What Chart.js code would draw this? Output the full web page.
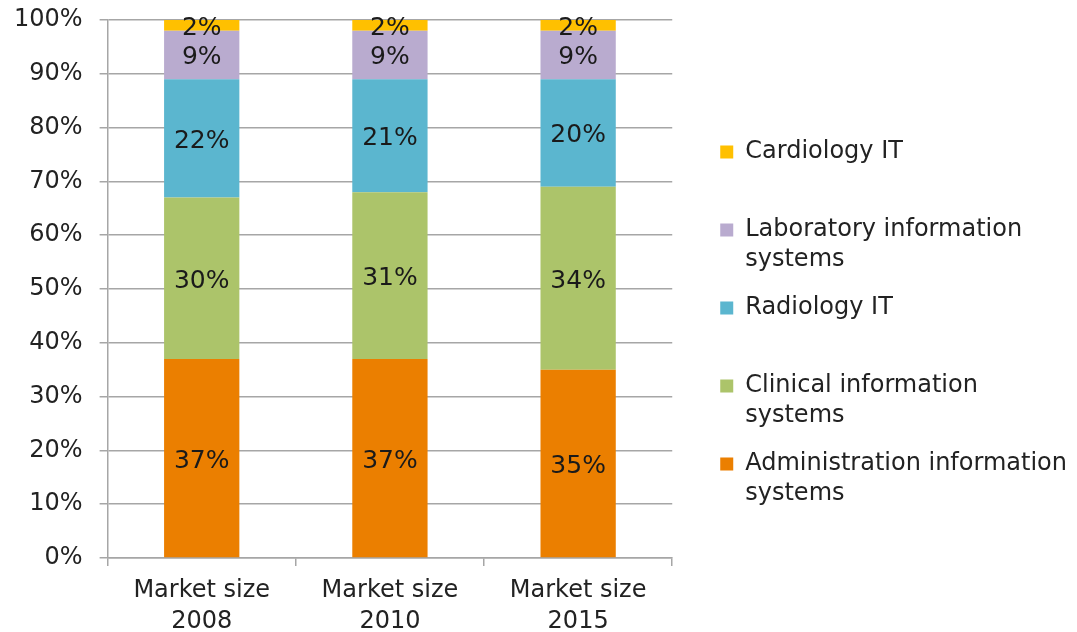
<!DOCTYPE html>
<html>
<head>
<meta charset="utf-8">
<script src="https://cdn.jsdelivr.net/npm/chart.js@4"></script>
<style>
  html, body { margin: 0; padding: 0; background: #fff; }
  #wrap { width: 1077px; height: 632px; }
</style>
</head>
<body>
<div id="wrap"><canvas id="chart"></canvas></div>
<script>
// categories and shares (%) per segment, bottom to top
const categories = [['Market size', '2008'], ['Market size', '2010'], ['Market size', '2015']];
const administration = [37, 37, 35];
const clinical = [30, 31, 34];
const radiology = [22, 21, 20];
const laboratory = [9, 9, 9];
const cardiology = [2, 2, 2];
const yTicks = ['0%', '10%', '20%', '30%', '40%', '50%', '60%', '70%', '80%', '90%', '100%'];

const seriesNames = [
    ['Administration information', 'systems'],
    ['Clinical information', 'systems'],
    ['Radiology IT', ''],
    ['Laboratory information', 'systems'],
    ['Cardiology IT', '']
];
const colors = ['#eb7f00', '#acc46a', '#5bb6cf', '#b9abcf', '#ffc000'];

const fontFamily = '"DejaVu Sans", Verdana, sans-serif';
const textColor = '#222222';

// etiquetas dentro de cada segmento
const barLabels = {
    id: 'barLabels',
    afterDatasetsDraw(chart) {
        const ctx = chart.ctx;
        ctx.save();
        ctx.font = '25px ' + fontFamily;
        ctx.fillStyle = '#1a1a1a';
        ctx.textAlign = 'center';
        ctx.textBaseline = 'middle';
        chart.data.datasets.forEach((ds, i) => {
            chart.getDatasetMeta(i).data.forEach((bar, j) => {
                const y = (bar.y + bar.base) / 2 + 3;
                ctx.fillText(ds.data[j] + '%', bar.x, y);
            });
        });
        ctx.restore();
    }
};

const allData = [administration, clinical, radiology, laboratory, cardiology];

new Chart(document.getElementById('chart'), {
    type: 'bar',
    data: {
        labels: categories,
        datasets: allData.map((d, i) => ({
            label: seriesNames[i].join(' '),
            data: d,
            backgroundColor: colors[i],
            borderWidth: 0,
            barPercentage: 0.4,
            categoryPercentage: 1.0
        }))
    },
    options: {
        responsive: true,
        maintainAspectRatio: false,
        animation: false,
        layout: { padding: { top: 0, left: -3, right: 0, bottom: 0 } },
        scales: {
            x: {
                stacked: true,
                grid: { display: true, drawOnChartArea: false, color: '#a6a6a6', lineWidth: 1.5, tickLength: 8 },
                border: { color: '#a6a6a6', width: 1.5 },
                ticks: {
                    color: textColor,
                    font: { family: fontFamily, size: 24, lineHeight: 1.29 },
                    padding: 9,
                    maxRotation: 0
                },
                afterFit: (scale) => { scale.height = 74; }
            },
            y: {
                stacked: true,
                min: 0,
                max: 100,
                grid: { color: '#a6a6a6', lineWidth: 1.5, tickLength: 8 },
                border: { color: '#a6a6a6', width: 1.5 },
                ticks: {
                    stepSize: 10,
                    color: textColor,
                    font: { family: fontFamily, size: 24 },
                    padding: 17,
                    callback: (v) => yTicks[Math.round(v / 10)]
                },
                afterFit: (scale) => { scale.paddingTop = 20; scale.paddingBottom = 20; }
            },
            // hueco entre el gráfico y la leyenda
            gap: {
                position: 'right',
                display: true,
                grid: { display: false },
                border: { display: false },
                ticks: { display: false },
                afterFit: (scale) => { scale.width = 30; }
            }
        },
        plugins: {
            tooltip: { enabled: false },
            legend: {
                position: 'right',
                reverse: true,
                maxWidth: 400,
                title: { display: true, text: '', font: { size: 10, lineHeight: 1.2 }, padding: 4 },
                labels: {
                    color: textColor,
                    font: { family: fontFamily, size: 24, lineHeight: 1.25 },
                    boxWidth: 13,
                    boxHeight: 13,
                    padding: 18,
                    generateLabels(chart) {
                        const items = Chart.defaults.plugins.legend.labels.generateLabels(chart);
                        items.forEach(it => {
                            it.text = seriesNames[it.datasetIndex];
                            it.lineWidth = 0;
                        });
                        return items;
                    }
                }
            }
        }
    },
    plugins: [barLabels]
});
</script>
</body>
</html>
